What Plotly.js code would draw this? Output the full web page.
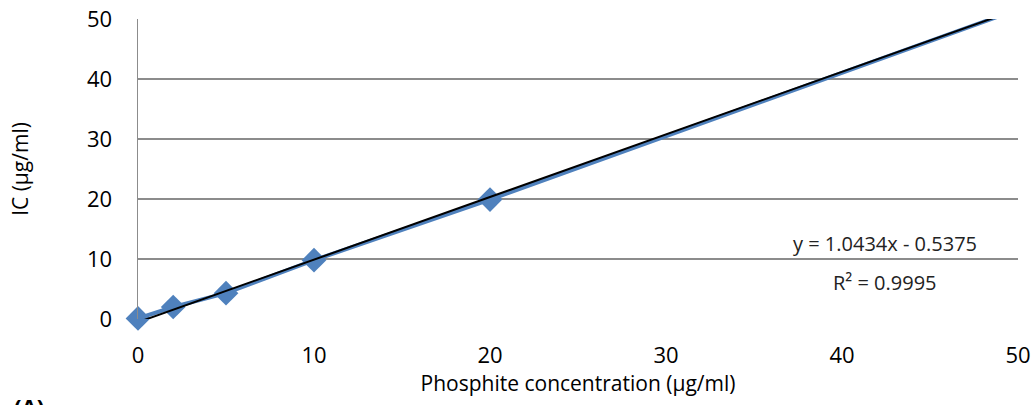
<!DOCTYPE html>
<html>
<head>
<meta charset="utf-8">
<script src="https://cdn.plot.ly/plotly-3.0.1.min.js"></script>
<style>html,body{margin:0;padding:0;background:#fff;}#chart{width:1035px;height:405px;}</style>
</head>
<body>
<div id="chart"></div>
<script>
const concentration = [0, 2, 5, 10, 20, 50];
const icValues = [0.1, 2.0, 4.3, 9.8, 19.9, 51.6];
const trendSlope = 1.0434;
const trendIntercept = -0.5375;
const trendX = [0, 50];
const trendY = trendX.map(x => trendSlope * x + trendIntercept);
const xTicks = [0, 10, 20, 30, 40, 50];
const yTicks = [0, 10, 20, 30, 40, 50];
const yMax = 50;

const font = "Open Sans, Noto Sans, sans-serif";
const blue = '#4F81BD';

// markers only for points inside the visible y range
const visIdx = icValues.map((v, i) => i).filter(i => icValues[i] <= yMax);

const traces = [
  {
    x: concentration, y: icValues, type: 'scatter', mode: 'lines',
    line: {color: blue, width: 4}, showlegend: false
  },
  {
    x: visIdx.map(i => concentration[i]), y: visIdx.map(i => icValues[i]),
    type: 'scatter', mode: 'markers',
    marker: {symbol: 'diamond', size: 19, color: blue, opacity: 1, line: {width: 0}},
    cliponaxis: false, showlegend: false
  },
  {
    x: trendX, y: trendY, type: 'scatter', mode: 'lines',
    line: {color: '#000000', width: 2},
    showlegend: false
  }
];

const layout = {
  width: 1035, height: 405,
  margin: {l: 138, r: 17, t: 19, b: 86},
  paper_bgcolor: '#fff', plot_bgcolor: '#fff',
  font: {family: font, color: '#000'},
  xaxis: {
    range: [0, 50], tickvals: xTicks, ticktext: xTicks.map(String),
    showgrid: false, zeroline: false, showline: false, ticks: '',
    tickfont: {size: 22, family: font}, ticklabelstandoff: 21,
    title: {text: 'Phosphite concentration (μg/ml)', font: {size: 21, family: font}, standoff: 4}
  },
  yaxis: {
    range: [0, yMax], tickvals: yTicks, ticktext: yTicks.map(String),
    showgrid: true, gridcolor: '#8c8c8c', gridwidth: 1.5,
    zeroline: false, showline: true, linecolor: '#8c8c8c', linewidth: 1.5,
    ticks: '', tickfont: {size: 22, family: font}, ticklabelstandoff: 20,
    title: {text: 'IC (μg/ml)', font: {size: 21, family: font}, standoff: 52}
  },
  annotations: [
    {xref: 'paper', yref: 'paper', x: 0.849, y: 0.253, xanchor: 'center', yanchor: 'middle',
     text: 'y = 1.0434x - 0.5375', showarrow: false, font: {size: 20, family: font, color: '#222'}},
    {xref: 'paper', yref: 'paper', x: 0.849, y: 0.123, xanchor: 'center', yanchor: 'middle',
     text: 'R² = 0.9995', showarrow: false, font: {size: 20, family: font, color: '#222'}},
    {xref: 'paper', yref: 'paper', x: -0.143, y: -0.232, xanchor: 'left', yanchor: 'top',
     text: '<b>(A)</b>', showarrow: false, font: {size: 22, family: font, color: '#000'}}
  ]
};

Plotly.newPlot('chart', traces, layout, {displayModeBar: false, staticPlot: true});
</script>
</body>
</html>
